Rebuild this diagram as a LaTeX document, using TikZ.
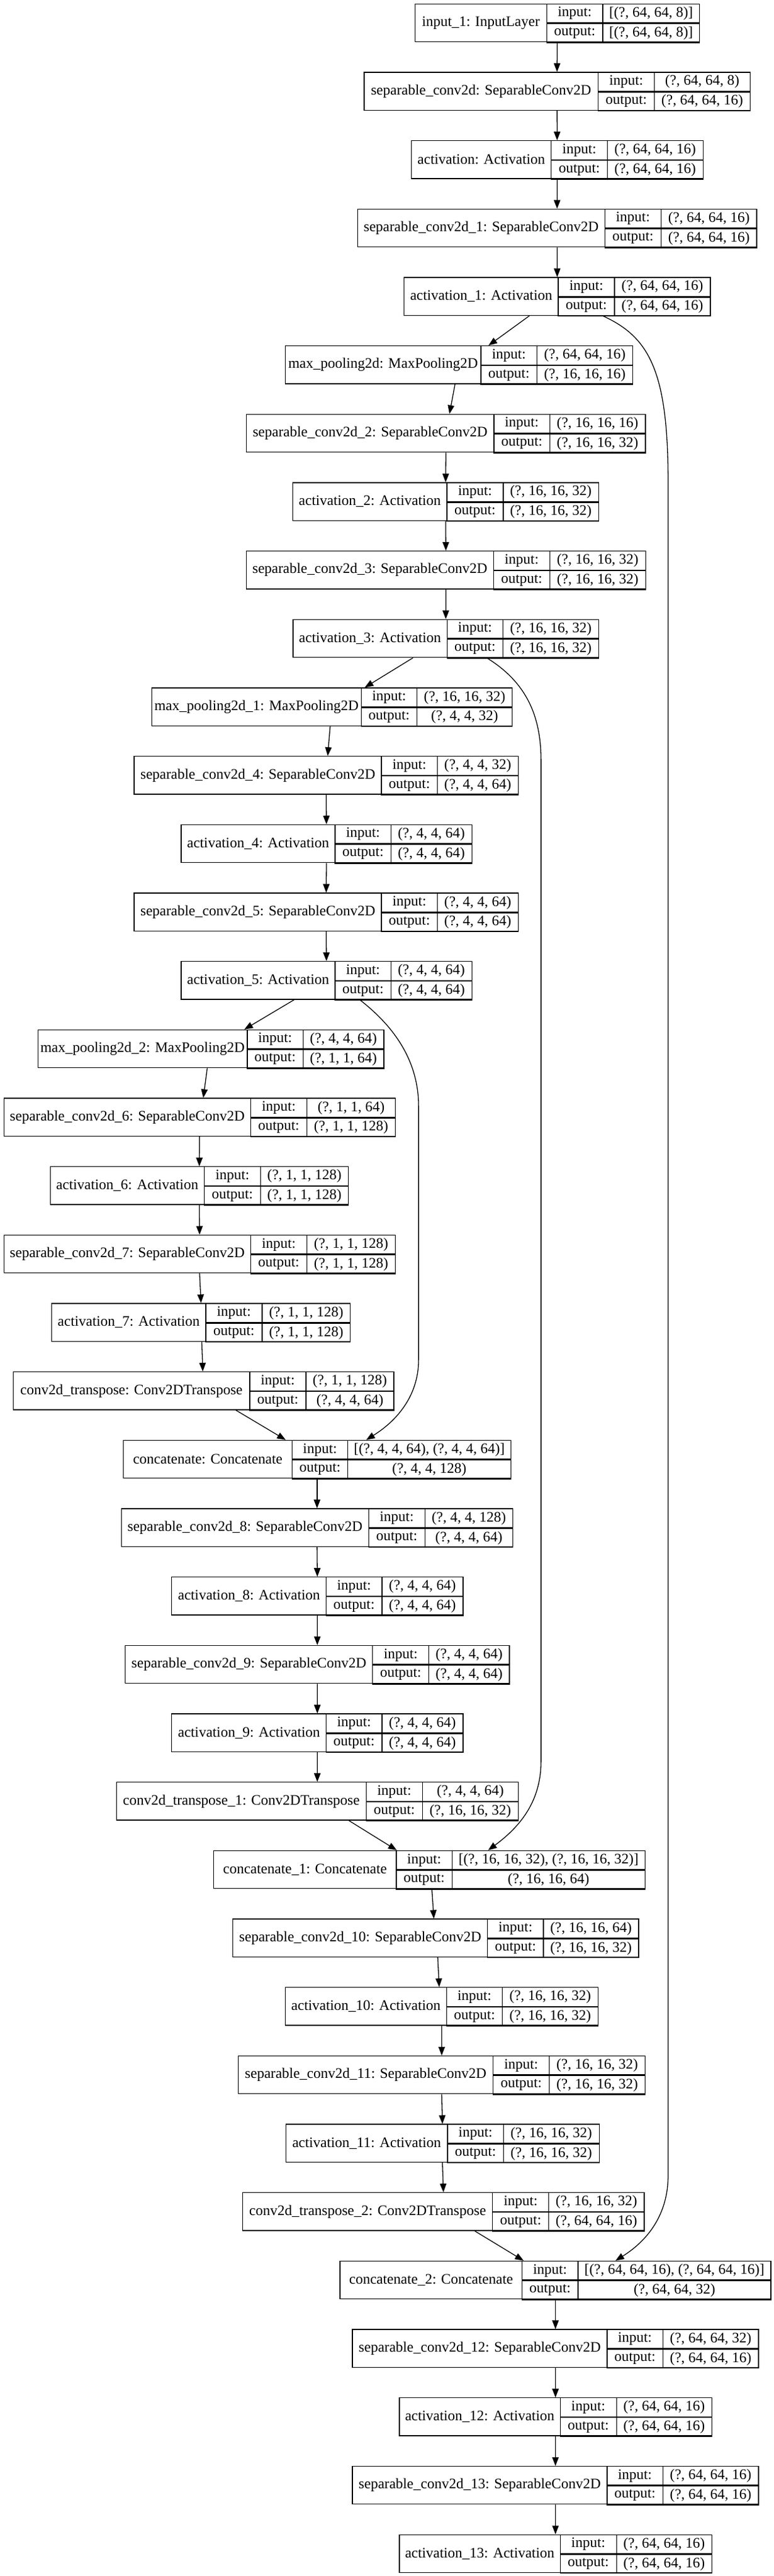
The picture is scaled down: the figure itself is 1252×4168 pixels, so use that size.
\documentclass[tikz,border=0pt]{standalone}
\usepackage{fontspec}
\setmainfont{Liberation Serif}
\usetikzlibrary{arrows.meta}

% one record: name, row, left, split 1, split 2, right, label, input, output
\newcommand{\layer}[9]{%
  \pgfmathsetmacro{\rowtop}{5.67+#2*110.67}
  \node[recbox, minimum width=#6-#3, anchor=north west] (#1) at (#3,\rowtop) {};
  \node[reccell, minimum width=#4-#3, minimum height=61.3pt, anchor=north west] (#1-n) at (#3,\rowtop) {#7};
  \node[reccell, minimum width=#5-#4, anchor=north west] (#1-i) at (#4,\rowtop) {input:};
  \node[reccell, minimum width=#5-#4, anchor=north west] (#1-o) at (#1-i.south west) {output:};
  \node[reccell, minimum width=#6-#5, anchor=north west] (#1-iv) at (#5,\rowtop) {#8};
  \node[reccell, minimum width=#6-#5, anchor=north west] (#1-ov) at (#1-iv.south west) {#9};
}

\begin{document}
\begin{tikzpicture}[x=1pt, y=-1pt,
    recbox/.style={draw, line width=1.3pt, inner sep=0pt, minimum height=61.3pt},
    reccell/.style={draw, line width=1.3pt, inner sep=0pt, minimum height=30.65pt, font=\fontsize{23.5}{28}\selectfont},
    arr/.style={-{Triangle[length=14pt,width=10.5pt]}, line width=1.3pt}]
  \fill[white] (0,0) rectangle (1252,4168);
  \useasboundingbox (0,0) rectangle (1252,4168);

  % Encoder
  \layer{in1}{0}{670.5}{883.8}{974.4}{1130.6}{input\_1: InputLayer}{[(?, 64, 64, 8)]}{[(?, 64, 64, 8)]}
  \layer{sc0}{1}{588.2}{966.9}{1057.8}{1212.7}{separable\_conv2d: SeparableConv2D}{(?, 64, 64, 8)}{(?, 64, 64, 16)}
  \layer{ac0}{2}{664.6}{891.1}{981.9}{1136.5}{activation: Activation}{(?, 64, 64, 16)}{(?, 64, 64, 16)}
  \layer{sc1}{3}{577.7}{977.6}{1068.8}{1223.3}{separable\_conv2d\_1: SeparableConv2D}{(?, 64, 64, 16)}{(?, 64, 64, 16)}
  \layer{ac1}{4}{653.1}{902.4}{993.2}{1148.3}{activation\_1: Activation}{(?, 64, 64, 16)}{(?, 64, 64, 16)}
  \layer{mp0}{5}{460.8}{777.3}{867.9}{1022.9}{max\_pooling2d: MaxPooling2D}{(?, 64, 64, 16)}{(?, 16, 16, 16)}
  \layer{sc2}{6}{397.9}{798.2}{888.6}{1043.3}{separable\_conv2d\_2: SeparableConv2D}{(?, 16, 16, 16)}{(?, 16, 16, 32)}
  \layer{ac2}{7}{472.9}{722.4}{813.2}{967.6}{activation\_2: Activation}{(?, 16, 16, 32)}{(?, 16, 16, 32)}
  \layer{sc3}{8}{397.6}{797.7}{888.7}{1043.6}{separable\_conv2d\_3: SeparableConv2D}{(?, 16, 16, 32)}{(?, 16, 16, 32)}
  \layer{ac3}{9}{473.2}{722.5}{813.0}{967.7}{activation\_3: Activation}{(?, 16, 16, 32)}{(?, 16, 16, 32)}
  \layer{mp1}{10}{245.1}{583.7}{673.9}{828.0}{max\_pooling2d\_1: MaxPooling2D}{(?, 16, 16, 32)}{(?, 4, 4, 32)}
  \layer{sc4}{11}{216.4}{616.4}{706.8}{837.6}{separable\_conv2d\_4: SeparableConv2D}{(?, 4, 4, 32)}{(?, 4, 4, 64)}
  \layer{ac4}{12}{292.2}{541.4}{631.8}{762.5}{activation\_4: Activation}{(?, 4, 4, 64)}{(?, 4, 4, 64)}
  \layer{sc5}{13}{216.4}{616.4}{706.8}{837.6}{separable\_conv2d\_5: SeparableConv2D}{(?, 4, 4, 64)}{(?, 4, 4, 64)}
  \layer{ac5}{14}{292.2}{541.4}{631.8}{762.5}{activation\_5: Activation}{(?, 4, 4, 64)}{(?, 4, 4, 64)}
  \layer{mp2}{15}{60.7}{399.2}{489.5}{620.4}{max\_pooling2d\_2: MaxPooling2D}{(?, 4, 4, 64)}{(?, 1, 1, 64)}
  \layer{sc6}{16}{5.6}{404.8}{495.8}{638.8}{separable\_conv2d\_6: SeparableConv2D}{(?, 1, 1, 64)}{(?, 1, 1, 128)}
  \layer{ac6}{17}{80.6}{329.8}{420.8}{562.9}{activation\_6: Activation}{(?, 1, 1, 128)}{(?, 1, 1, 128)}
  \layer{sc7}{18}{5.6}{404.8}{495.8}{638.8}{separable\_conv2d\_7: SeparableConv2D}{(?, 1, 1, 128)}{(?, 1, 1, 128)}
  \layer{ac7}{19}{83.0}{332.2}{423.2}{566.1}{activation\_7: Activation}{(?, 1, 1, 128)}{(?, 1, 1, 128)}

  % Decoder
  \layer{ct0}{20}{20.8}{403.2}{494.2}{636.4}{conv2d\_transpose: Conv2DTranspose}{(?, 1, 1, 128)}{(?, 4, 4, 64)}
  \layer{cat0}{21}{198.8}{471.9}{562.1}{825.6}{concatenate: Concatenate}{[(?, 4, 4, 64), (?, 4, 4, 64)]}{(?, 4, 4, 128)}
  \layer{sc8}{22}{195.6}{595.7}{686.7}{828.8}{separable\_conv2d\_8: SeparableConv2D}{(?, 4, 4, 128)}{(?, 4, 4, 64)}
  \layer{ac8}{23}{277.1}{527.0}{617.2}{748.2}{activation\_8: Activation}{(?, 4, 4, 64)}{(?, 4, 4, 64)}
  \layer{sc9}{24}{202.0}{602.0}{693.1}{823.2}{separable\_conv2d\_9: SeparableConv2D}{(?, 4, 4, 64)}{(?, 4, 4, 64)}
  \layer{ac9}{25}{277.1}{527.0}{617.2}{748.2}{activation\_9: Activation}{(?, 4, 4, 64)}{(?, 4, 4, 64)}
  \layer{ct1}{26}{187.6}{591.7}{682.7}{837.6}{conv2d\_transpose\_1: Conv2DTranspose}{(?, 4, 4, 64)}{(?, 16, 16, 32)}
  \layer{cat1}{27}{344.9}{640.4}{730.6}{1042.8}{concatenate\_1: Concatenate}{[(?, 16, 16, 32), (?, 16, 16, 32)]}{(?, 16, 16, 64)}
  \layer{sc10}{28}{376.1}{788.1}{878.3}{1032.4}{separable\_conv2d\_10: SeparableConv2D}{(?, 16, 16, 64)}{(?, 16, 16, 32)}
  \layer{ac10}{29}{460.7}{721.8}{812.0}{966.9}{activation\_10: Activation}{(?, 16, 16, 32)}{(?, 16, 16, 32)}
  \layer{sc11}{30}{384.9}{796.9}{887.9}{1042.8}{separable\_conv2d\_11: SeparableConv2D}{(?, 16, 16, 32)}{(?, 16, 16, 32)}
  \layer{ac11}{31}{461.5}{723.4}{813.6}{968.5}{activation\_11: Activation}{(?, 16, 16, 32)}{(?, 16, 16, 32)}
  \layer{ct2}{32}{392.0}{796.1}{887.1}{1041.2}{conv2d\_transpose\_2: Conv2DTranspose}{(?, 16, 16, 32)}{(?, 64, 64, 16)}
  \layer{cat2}{33}{549.3}{844.0}{934.2}{1246.4}{concatenate\_2: Concatenate}{[(?, 64, 64, 16), (?, 64, 64, 16)]}{(?, 64, 64, 32)}
  \layer{sc12}{34}{569.3}{981.3}{1071.5}{1226.4}{separable\_conv2d\_12: SeparableConv2D}{(?, 64, 64, 32)}{(?, 64, 64, 16)}
  \layer{ac12}{35}{645.2}{905.5}{996.5}{1150.6}{activation\_12: Activation}{(?, 64, 64, 16)}{(?, 64, 64, 16)}
  \layer{sc13}{36}{569.3}{981.3}{1071.5}{1226.4}{separable\_conv2d\_13: SeparableConv2D}{(?, 64, 64, 16)}{(?, 64, 64, 16)}
  \layer{ac13}{37}{645.2}{905.5}{996.5}{1150.6}{activation\_13: Activation}{(?, 64, 64, 16)}{(?, 64, 64, 16)}

  % straight links
  \foreach \a/\b in {in1/sc0, sc0/ac0, ac0/sc1, sc1/ac1, sc2/ac2, ac2/sc3, sc3/ac3,
      sc4/ac4, ac4/sc5, sc5/ac5, sc6/ac6, ac6/sc7, sc7/ac7, cat0/sc8, sc8/ac8,
      ac8/sc9, sc9/ac9, ac9/ct1, ac10/sc11, sc11/ac11, ac11/ct2, cat2/sc12,
      sc12/ac12, ac12/sc13, sc13/ac13}
    \draw[arr] (\a.south) -- (\b.north);

  % slanted links
  \foreach \a/\b/\s/\t in {ac1/mp0/-45/47.65, mp0/sc2/-6.45/5.8, ac3/mp1/-52.95/52.75,
      mp1/sc4/-3.15/2.4, ac5/mp2/-52.25/53.85, mp2/sc6/-5.95/6, ac7/ct0/1.25/-1.2,
      ct0/cat0/52.3/-50.7, ct1/cat1/51.1/-52.65, cat1/sc10/4.05/-3.15,
      sc10/ac10/3.15/-4, ct2/cat2/50.7/-51.45}
    \draw[arr] ([xshift=\s pt]\a.south) -- ([xshift=\t pt]\b.north);

  % skip connections
  \draw[arr] ([xshift=73.3pt]ac1.south) .. controls (1050,545) and (1080.7,600) .. (1080.7,780)
    -- (1080.7,3520) .. controls (1080.7,3590) and (1040,3630) .. ([xshift=97.05pt]cat2.north);
  \draw[arr] ([xshift=66.05pt]ac3.south) .. controls (845,1100) and (875.1,1150) .. (875.1,1230)
    -- (875.1,2850) .. controls (875.1,2920) and (835,2960) .. ([xshift=95.05pt]cat1.north);
  \draw[arr] ([xshift=53.95pt]ac5.south) .. controls (630,1655) and (677.1,1710) .. (677.1,1790)
    -- (677.1,2200) .. controls (677.1,2260) and (640,2300) .. ([xshift=79.5pt]cat0.north);
\end{tikzpicture}
\end{document}
